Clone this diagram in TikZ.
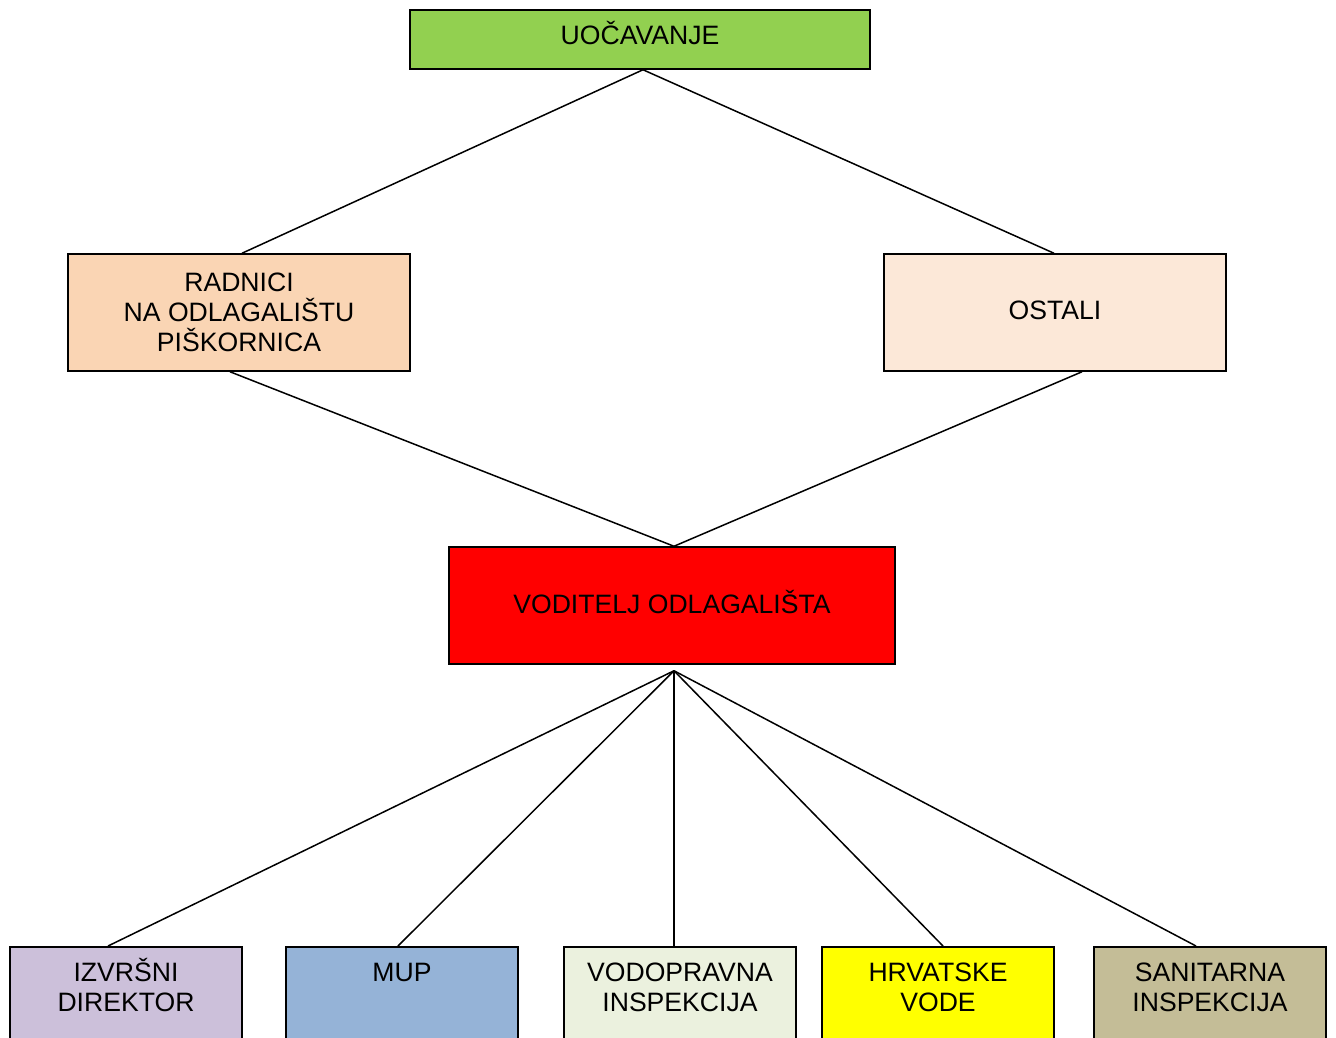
\documentclass[tikz,border=0pt]{standalone}
\usepackage{fontspec}
\setmainfont{Liberation Sans}
\definecolor{cgreen}{HTML}{92D050}
\definecolor{cpeach}{HTML}{FAD5B4}
\definecolor{clight}{HTML}{FCE8D8}
\definecolor{cred}{HTML}{FF0000}
\definecolor{clilac}{HTML}{CCC0DA}
\definecolor{cblue}{HTML}{95B3D7}
\definecolor{cpale}{HTML}{EBF1DE}
\definecolor{cyel}{HTML}{FFFF00}
\definecolor{ctan}{HTML}{C4BD97}
\begin{document}
\begin{tikzpicture}[x=1pt,y=-1pt,
  box/.style={draw=black,line width=1.5pt,inner sep=0pt,align=center,
    font=\fontsize{26.6}{30}\selectfont},
  lowbox/.style={draw=black,line width=1.5pt,inner sep=0pt,anchor=north,
    minimum width=232pt,minimum height=120pt},
  lowtxt/.style={inner sep=0pt,align=center,font=\fontsize{26.6}{30}\selectfont},
  conn/.style={line width=1.5pt}]
\useasboundingbox (0,0) rectangle (1336,1037);
\node[box,fill=cgreen,minimum width=460pt,minimum height=59pt,text height=19pt,text depth=9pt] (top) at (640,39.5) {UOČAVANJE};
\node[box,fill=cpeach,minimum width=342pt,minimum height=117pt] (rad) at (239,312.5) {RADNICI\\NA ODLAGALIŠTU\\PIŠKORNICA};
\node[box,fill=clight,minimum width=342pt,minimum height=117pt,text height=19pt,text depth=5pt] (ost) at (1055,312.5) {OSTALI};
\node[box,fill=cred,minimum width=446pt,minimum height=117pt,text height=19pt,text depth=3pt] (vod) at (672,605.5) {VODITELJ ODLAGALIŠTA};
\node[lowbox,fill=clilac] (izv) at (126,946) {};
\node[lowbox,fill=cblue] (mup) at (402,946) {};
\node[lowbox,fill=cpale] (vop) at (680,946) {};
\node[lowbox,fill=cyel] (hrv) at (938,946) {};
\node[lowbox,fill=ctan] (san) at (1210,946) {};
\node[lowtxt] (izvt) at (126,985) {IZVRŠNI\\DIREKTOR};
\node[lowtxt] (mupt) at (402,972) {MUP};
\node[lowtxt] (vopt) at (680,987.5) {VODOPRAVNA\\INSPEKCIJA};
\node[lowtxt] (hrvt) at (938,987.5) {HRVATSKE\\VODE};
\node[lowtxt] (sant) at (1210,987.5) {SANITARNA\\INSPEKCIJA};
\coordinate (hub) at ([xshift=2pt,yshift=-6pt]vod.south);
\draw[conn] ([xshift=3pt]top.south) -- ([xshift=3pt]rad.north);
\draw[conn] ([xshift=3pt]top.south) -- ([xshift=-1pt]ost.north);
\draw[conn] ([xshift=-9pt]rad.south) -- ([xshift=2pt]vod.north);
\draw[conn] ([xshift=27pt]ost.south) -- ([xshift=2pt]vod.north);
\draw[conn] (hub) -- ([xshift=-18pt]izv.north);
\draw[conn] (hub) -- ([xshift=-4pt]mup.north);
\draw[conn] (hub) -- ([xshift=-6pt]vop.north);
\draw[conn] (hub) -- ([xshift=5pt]hrv.north);
\draw[conn] (hub) -- ([xshift=-14pt]san.north);
\end{tikzpicture}
\end{document}
